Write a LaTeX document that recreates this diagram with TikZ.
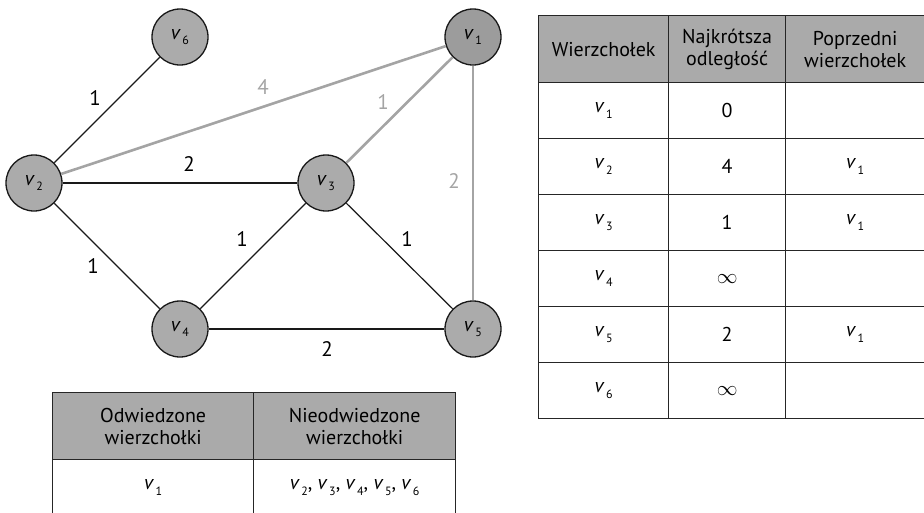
\documentclass[tikz,border=0pt]{standalone}
\usepackage{fontspec}
\setmainfont{PT Sans}
\usepackage{tikz}
\definecolor{nodegray}{HTML}{ABABAB}
\definecolor{rootgray}{HTML}{9C9C9C}
\definecolor{edgegray}{HTML}{A4A4A4}
\definecolor{headgray}{HTML}{AAAAAA}
\newcommand{\vsub}[1]{\textit{v}\kern1.5pt\raisebox{-0.55ex}{\fontsize{12}{12}\selectfont #1}}
\tikzset{
  vert/.style={circle,draw=black!90,line width=1.3pt,fill=nodegray,minimum size=56pt,inner sep=0pt},
  link/.style={line width=1.2pt,black!90},
  tree/.style={line width=2.6pt,edgegray},
  wlabel/.style={inner sep=0pt,font=\fontsize{21}{22}\selectfont},
  cell/.style={draw=black!85,line width=1.3pt,minimum width=#1,minimum height=56pt,inner sep=0pt,anchor=north west,align=center},
  hcell/.style={cell=#1,fill=headgray,minimum height=67pt}
}

\begin{document}
\begin{tikzpicture}[x=1pt,y=-1pt,font=\fontsize{20}{22}\selectfont]
\useasboundingbox (0,0) rectangle (924,512);
% graph
\node [vert,fill=rootgray] (v1) at (473,37) {\vsub{1}};
\node [vert] (v2) at (34,183) {\vsub{2}};
\node [vert] (v3) at (326,183) {\vsub{3}};
\node [vert] (v4) at (180,329) {\vsub{4}};
\node [vert] (v5) at (473,329) {\vsub{5}};
\node [vert] (v6) at (180,37) {\vsub{6}};
\draw [tree] (v2) -- (v1);
\draw [tree] (v3) -- (v1);
\draw [tree] (v5) -- (v1);
\draw [link] (v2) -- (v6);
\draw [link] (v2) -- (v3);
\draw [link] (v2) -- (v4);
\draw [link] (v4) -- (v3);
\draw [link] (v3) -- (v5);
\draw [link] (v4) -- (v5);
\node [wlabel] (w26) at (95,98) {1};
\node [wlabel,edgegray] (w21) at (263,87) {4};
\node [wlabel,edgegray] (w31) at (383,102) {1};
\node [wlabel,edgegray] (w51) at (454,181) {2};
\node [wlabel] (w23) at (189,164) {2};
\node [wlabel] (w24) at (93,266) {1};
\node [wlabel] (w43) at (242,239) {1};
\node [wlabel] (w35) at (407,239) {1};
\node [wlabel] (w45) at (327,349) {2};
% distance table
\node [hcell=130pt] (ha) at (538,15) {Wierzchołek};
\node [hcell=117pt] (hb) at (668,15) {Najkrótsza\\odległość};
\node [hcell=139pt] (hc) at (785,15) {Poprzedni\\wierzchołek};
\foreach \r/\d/\p in {1/0/{}, 2/4/{\vsub{1}}, 3/1/{\vsub{1}}, 4/{$\infty$}/{}, 5/2/{\vsub{1}}, 6/{$\infty$}/{}} {
  \node [cell=130pt] (r\r a) at (538,{82+56*(\r-1)}) {\vsub{\r}};
  \node [cell=117pt] (r\r b) at (668,{82+56*(\r-1)}) {\d};
  \node [cell=139pt] (r\r c) at (785,{82+56*(\r-1)}) {\p};
}
% visited table
\node [hcell=201pt] (oa) at (52,392) {Odwiedzone\\wierzchołki};
\node [hcell=202pt] (ob) at (253,392) {Nieodwiedzone\\wierzchołki};
\node [cell=201pt] (sa) at (52,459) {\vsub{1}};
\node [cell=202pt] (sb) at (253,459) {\vsub{2}, \vsub{3}, \vsub{4}, \vsub{5}, \vsub{6}};
\end{tikzpicture}
\end{document}
